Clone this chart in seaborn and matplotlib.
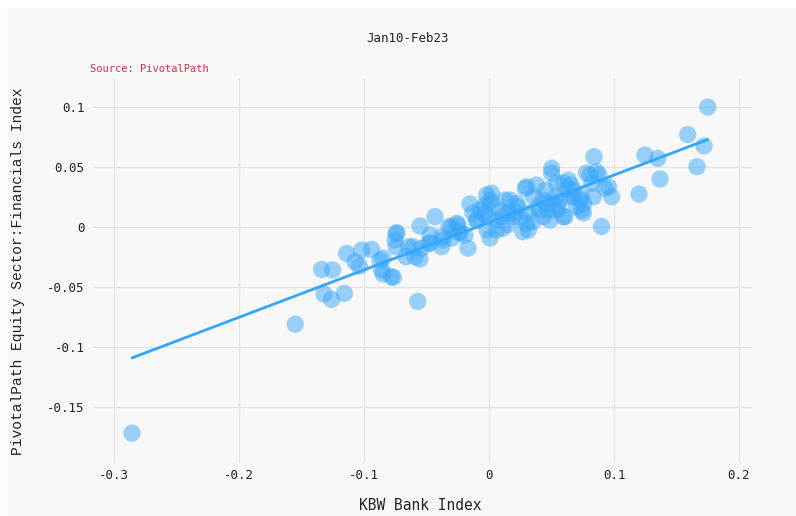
import pandas as pd
import seaborn as sns
import matplotlib.pyplot as plt
from matplotlib.patches import Rectangle
from matplotlib.ticker import FuncFormatter

# monthly returns (x: KBW Bank Index, y: PivotalPath Financials)
kbw = [
    -0.2856, -0.155, -0.057, 0.175, 0.159, 0.172, 0.1664, 0.1248, 0.135, 0.1368,
    0.120, 0.090, 0.084, 0.0981, 0.0955, 0.0861, 0.0808, 0.0821, 0.0835, 0.0741,
    0.0728, 0.0635, 0.0595, 0.0928, 0.0675, 0.078, 0.0755,
    0.0501, 0.0501, 0.0301, 0.038, 0.0595, 0.054, 0.0021, 0.0008, 0.0128,
    0.0221, 0.0355, 0.0461, 0.0568, 0.0648, 0.0701, 0.0195, 0.0301, 0.0061,
    0.0315, 0.0435, 0.0488, 0.0608, 0.0088, -0.0019, 0.0541, 0.0408, 0.0008,
    0.027, 0.0352, 0.0108, 0.0168, 0.023, 0.0472, 0.0534, 0.0656, 0.0677,
    0.088, 0.0737, 0.0758, 0.0048, 0.0108, 0.0149, 0.0208, 0.0312, 0.0392,
    0.0432, 0.0454, 0.0628, 0.0555, 0.0514, 0.0291, 0.0017, -0.0016, 0.025, 0.015,
    -0.0152, -0.0432, -0.0552, -0.0736, -0.0752, -0.0744, -0.0608, -0.0592,
    -0.0552, -0.0472, -0.0472, -0.0368, -0.0299, -0.0248, -0.0232, -0.0168,
    -0.0128, -0.0072, -0.0019, -0.0032, -0.0848, -0.0192, -0.0298, -0.0099,
    -0.0034, -0.032, -0.0257, -0.0237, -0.0379, -0.048, -0.0542, -0.0643,
    -0.0664, -0.0379, -0.0095,
    -0.1339, -0.1251, -0.1139, -0.1019, -0.0939, -0.1072, -0.1037, -0.0872,
    -0.0859, -0.0779, -0.0744, -0.132, -0.1259, -0.1157, -0.0848, -0.0765,
]
pivotal = [
    -0.1717, -0.081, -0.062, 0.100, 0.077, 0.0675, 0.0503, 0.060, 0.0572, 0.040,
    0.0275, 0.0005, 0.0586, 0.0253, 0.0336, 0.0461, 0.0433, 0.0364, 0.0253, 0.014,
    0.0225, 0.039, 0.0086, 0.0325, 0.0308, 0.045, 0.0117,
    0.0489, 0.045, 0.0336, 0.035, 0.0367, 0.0367, 0.0281, 0.0225, 0.0225,
    0.0197, 0.0253, 0.0197, 0.0225, 0.0253, 0.0169, 0.0086, 0.003, -0.0025,
    -0.0025, 0.0086, 0.0058, 0.0086, 0.014, 0.0086, 0.014, 0.014, -0.0092,
    -0.0039, 0.0044, -0.0011, 0.0225, 0.0169, 0.014, 0.0253, 0.035, 0.0253,
    0.0433, 0.0253, 0.0197, 0.0058, 0.0086, 0.0114, 0.0128, 0.0114, 0.0169,
    0.0225, 0.0308, 0.0314, 0.0169, 0.0197, 0.0322, 0.020, -0.0025, 0.008, 0.002,
    0.0192, 0.0086, 0.0008, -0.0048, -0.0108, -0.0164, -0.0164, -0.0248,
    -0.0267, -0.0067, -0.0133, -0.0108, 0.0003, 0.0017, -0.005, -0.0175,
    0.0117, 0.014, 0.0267, 0.0183, -0.026, -0.0067, -0.0092, 0.0058,
    0.0114, 0.0003, 0.0031, -0.0039, -0.0081, -0.0136, -0.0178, -0.0164,
    -0.0247, -0.0164, 0.0058,
    -0.0353, -0.0358, -0.022, -0.0192, -0.0186, -0.0289, -0.0325, -0.0275,
    -0.0358, -0.0414, -0.0053, -0.0558, -0.0603, -0.0553, -0.039, -0.042,
]
x_ticks = [-0.3, -0.2, -0.1, 0, 0.1, 0.2]
y_ticks = [-0.15, -0.1, -0.05, 0, 0.05, 0.1]

df = pd.DataFrame({"kbw": kbw, "pivotal": pivotal})

sns.set_style("whitegrid", {"axes.facecolor": "#f8f8f8", "grid.color": "#e4e4e4"})
plt.rcParams["font.family"] = ["DejaVu Sans Mono", "DejaVu Sans"]

fig = plt.figure(figsize=(7.96, 5.16), dpi=100, facecolor="white")
fig.patches.append(Rectangle((7 / 796, 0), 1, 508 / 516, transform=fig.transFigure,
                             facecolor="#f8f8f8", edgecolor="none", zorder=-10))
ax = fig.add_axes([93 / 796, 54 / 516, 659 / 796, 384 / 516])

sns.regplot(data=df, x="kbw", y="pivotal", ci=None, ax=ax,
            scatter_kws=dict(s=155, color="#3aa8f8", alpha=0.5, edgecolors="none"),
            line_kws=dict(color="#33a6ff", lw=2))

ax.set_xlim(-0.3168, 0.2104)
ax.set_ylim(-0.1958, 0.1242)
ax.set_xticks(x_ticks)
ax.set_yticks(y_ticks)
fmt = FuncFormatter(lambda v, p: "0" if abs(v) < 1e-9 else f"{round(v, 6):g}")
ax.xaxis.set_major_formatter(fmt)
ax.yaxis.set_major_formatter(fmt)
ax.tick_params(axis="both", length=0, labelsize=9, colors="#222222")
ax.tick_params(axis="x", pad=5)
ax.tick_params(axis="y", pad=6)
for s in ax.spines.values():
    s.set_visible(False)
ax.grid(True, lw=1)

ax.set_xlabel("")
ax.set_ylabel("")
fig.text(420 / 796, 1 - 505 / 516, "KBW Bank Index", ha="center", va="center",
         fontsize=10.5, color="#222222")
fig.text(18 / 796, 1 - 271 / 516, "PivotalPath Equity Sector:Financials Index",
         rotation=90, ha="center", va="center", fontsize=10.5,
         family="Liberation Mono", color="#222222")
fig.text(408 / 796, 1 - 39 / 516, "Jan10-Feb23", ha="center", va="center",
         fontsize=9, color="#222222")
fig.text(90 / 796, 1 - 69 / 516, "Source: PivotalPath", ha="left", va="center",
         fontsize=7.5, color="#d0314c")

fig.savefig("out.png", dpi=100, facecolor=fig.get_facecolor())
